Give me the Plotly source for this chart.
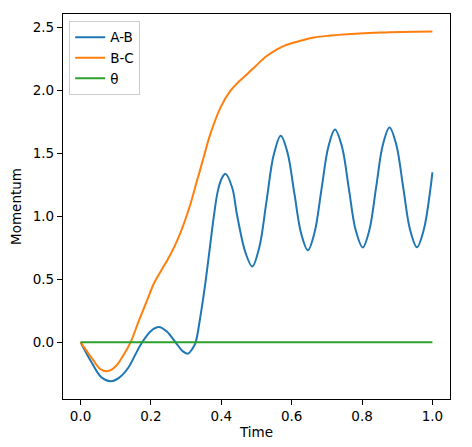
import plotly.graph_objects as go

# values
t_ab = [0.0, 0.033, 0.06, 0.085, 0.11, 0.137, 0.155, 0.175, 0.2, 0.2225, 0.245,
        0.27, 0.29, 0.305, 0.318, 0.327, 0.341, 0.355, 0.367, 0.379, 0.39, 0.401,
        0.412, 0.431, 0.445, 0.469, 0.488, 0.508, 0.5285, 0.549, 0.569, 0.588,
        0.6075, 0.627, 0.646, 0.665, 0.6845, 0.704, 0.723, 0.743, 0.7625, 0.782,
        0.802, 0.821, 0.84, 0.859, 0.878, 0.8975, 0.917, 0.9365, 0.956, 0.9755,
        0.995, 1.0]
ab = [0.0, -0.169, -0.28, -0.309, -0.28, -0.196, -0.10, 0.0, 0.09, 0.121, 0.085,
      0.0, -0.07, -0.09, -0.05, 0.0, 0.214, 0.478, 0.742, 1.006, 1.20, 1.30,
      1.337, 1.227, 1.006, 0.709, 0.602, 0.754, 1.121, 1.488, 1.64, 1.507,
      1.185, 0.863, 0.73, 0.871, 1.21, 1.549, 1.69, 1.553, 1.22, 0.890,
      0.753, 0.893, 1.23, 1.566, 1.706, 1.567, 1.23, 0.894, 0.755, 0.894,
      1.232, 1.35]

t_bc = [0.0, 0.033, 0.055, 0.076, 0.10, 0.122, 0.142, 0.166, 0.19, 0.208, 0.228,
        0.246, 0.265, 0.284, 0.3125, 0.331, 0.346, 0.369, 0.398, 0.426, 0.45,
        0.474, 0.50, 0.53, 0.555, 0.578, 0.625, 0.663, 0.71, 0.758, 0.852, 1.0]
bc = [0.0, -0.13, -0.21, -0.23, -0.19, -0.10, 0.0, 0.174, 0.34, 0.465, 0.565,
      0.65, 0.75, 0.87, 1.10, 1.284, 1.43, 1.654, 1.865, 1.997, 2.07,
      2.13, 2.2, 2.274, 2.32, 2.353, 2.393, 2.42, 2.435, 2.446, 2.459, 2.467]

t_theta = [0.0, 1.0]
theta = [0.0, 0.0]

font = dict(family="DejaVu Sans", size=13.5, color="black")

fig = go.Figure()
fig.add_trace(go.Scatter(x=t_ab, y=ab, mode="lines", name="A-B",
                         line=dict(color="#1f77b4", width=2, shape="spline", smoothing=1)))
fig.add_trace(go.Scatter(x=t_bc, y=bc, mode="lines", name="B-C",
                         line=dict(color="#ff7f0e", width=2, shape="spline", smoothing=1)))
fig.add_trace(go.Scatter(x=t_theta, y=theta, mode="lines", name="θ",
                         line=dict(color="#2ca02c", width=2)))

axis = dict(showline=True, linecolor="black", linewidth=1.2, mirror=True,
            ticks="outside", ticklen=5, tickwidth=1, tickcolor="black",
            showgrid=False, zeroline=False, tickfont=font, tickformat=".1f",
            automargin=False)

# the page body adds 8px on the left and top, so the margins allow for it
fig.update_layout(
    width=472, height=447,
    margin=dict(l=55, r=30, t=6, b=56),
    paper_bgcolor="white", plot_bgcolor="white",
    font=font,
    xaxis=dict(axis, range=[-0.05, 1.05], dtick=0.2,
               title=dict(text="Time", font=font, standoff=4)),
    yaxis=dict(axis, range=[-0.45, 2.606], dtick=0.5,
               title=dict(text="Momentum", font=font, standoff=8)),
    legend=dict(x=0.016, y=0.982, xanchor="left", yanchor="top",
                bgcolor="white", bordercolor="#cccccc", borderwidth=1,
                font=font, tracegroupgap=0),
    showlegend=True,
)

fig.write_html("out.html")
